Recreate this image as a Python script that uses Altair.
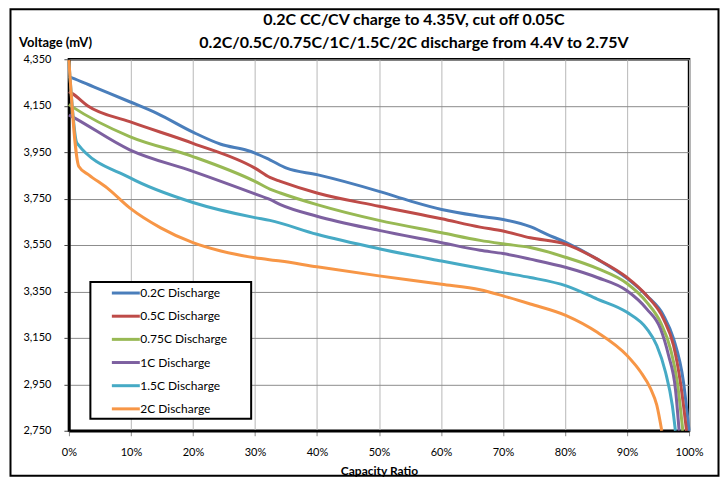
import altair as alt
import pandas as pd

series = ["0.2C Discharge", "0.5C Discharge", "0.75C Discharge",
          "1C Discharge", "1.5C Discharge", "2C Discharge"]
colors = ["#4A7EBB", "#BE4B48", "#98B954", "#7D60A0", "#46AAC5", "#F79646"]

title_lines = ["0.2C CC/CV charge to 4.35V, cut off 0.05C",
               "0.2C/0.5C/0.75C/1C/1.5C/2C  discharge from 4.4V to 2.75V"]

cap_02 = [0, 0.5, 4, 9.8, 14.2, 20, 24.5, 28.8, 30, 32.4, 35.1, 40, 50, 55.1, 60.1,
          66.3, 70, 74.4, 77.1, 80.2, 85.2, 90, 93.2, 95.9, 97.5, 99.1, 100]
v_02 = [4275, 4270, 4231, 4167, 4117, 4036, 3984, 3957, 3946, 3917, 3881, 3853, 3781, 3739, 3703,
        3674, 3660, 3629, 3596, 3560, 3489, 3406, 3331, 3246, 3146, 2960, 2750]

cap_05 = [0, 0.5, 3, 9.8, 20, 30, 32.4, 34.1, 40, 50, 60.1, 66.3, 70, 74.4, 80.2,
          85.2, 90, 93.2, 95.9, 97.5, 98.6, 99.6]
v_05 = [4210, 4203, 4150, 4081, 3988, 3881, 3841, 3824, 3774, 3717, 3663, 3627, 3610, 3581, 3553,
        3489, 3410, 3331, 3231, 3117, 2960, 2750]

cap_075 = [0, 0.5, 9.8, 20, 30, 32.4, 34.1, 40, 50, 60.1, 66.3, 70, 74.4, 80.2,
           85.2, 90, 93.2, 95.4, 97.0, 98.1, 99.0]
v_075 = [4155, 4146, 4017, 3931, 3824, 3791, 3774, 3724, 3656, 3603, 3570, 3555, 3539, 3496,
         3449, 3384, 3303, 3217, 3103, 2960, 2750]

cap_1 = [0, 0.5, 9.8, 20, 30, 32.4, 34.1, 40, 50, 60.1, 66.3, 70, 74.4, 80.2,
         85.2, 90, 93.2, 95.4, 96.7, 97.8, 98.4]
v_1 = [4110, 4103, 3960, 3867, 3770, 3746, 3724, 3674, 3613, 3560, 3527, 3513, 3489, 3453,
       3410, 3353, 3274, 3189, 3074, 2931, 2750]

cap_15 = [0, 1.3, 9.8, 20, 30, 32.4, 40, 50, 60.1, 66.3, 70, 74.4, 80.2,
          85.2, 90, 93.2, 94.8, 96.2, 97.3, 97.8]
v_15 = [4340, 3989, 3840, 3733, 3668, 3656, 3596, 3534, 3481, 3450, 3431, 3410, 3374,
        3317, 3260, 3189, 3117, 3003, 2860, 2750]

cap_2 = [0, 1.6, 3.2, 6.2, 9.8, 14.8, 20, 24.5, 30, 34.1, 40, 50, 60.1, 66.3, 70, 74.4,
         80.2, 85.2, 90, 92.2, 93.8, 94.8, 95.6]
v_2 = [4346, 3888, 3852, 3795, 3710, 3624, 3560, 3524, 3495, 3481, 3456, 3417, 3381, 3357, 3331, 3296,
       3246, 3174, 3074, 3003, 2931, 2860, 2750]

caps = [cap_02, cap_05, cap_075, cap_1, cap_15, cap_2]
volts = [v_02, v_05, v_075, v_1, v_15, v_2]

rows = []
for i, (name, cs, vs) in enumerate(zip(series, caps, volts)):
    for j, (c, v) in enumerate(zip(cs, vs)):
        rows.append({"series": name, "order": i, "idx": j, "cap": c, "volt": v})
df = pd.DataFrame(rows)

y_ticks = list(range(2750, 4351, 200))
x_ticks = list(range(0, 101, 10))

FONT = "Lato"

lines = alt.Chart(df).mark_line(strokeWidth=3, interpolate="monotone").encode(
    x=alt.X("cap:Q", scale=alt.Scale(domain=[0, 100], nice=False, zero=False),
            axis=alt.Axis(values=x_ticks, labelExpr="datum.value + '%'", labelFlush=False,
                          title="Capacity Ratio", titleFont=FONT, titleFontWeight="bold",
                          titleFontSize=12, titleColor="black", titlePadding=8,
                          labelFont=FONT, labelFontSize=11, labelColor="black", labelPadding=11,
                          tickSize=5, tickColor="#888888", domainColor="black", domainWidth=2.5,
                          gridColor="#b8b8b8", gridWidth=1)),
    y=alt.Y("volt:Q", scale=alt.Scale(domain=[2750, 4350], nice=False, zero=False),
            axis=alt.Axis(values=y_ticks, format=",d",
                          title="Voltage (mV)", titleAngle=0, titleAlign="left",
                          titleBaseline="middle", titleX=-50.5, titleY=-17,
                          titleFont=FONT, titleFontWeight="bold", titleFontSize=13,
                          titleColor="black",
                          labelFont=FONT, labelFontSize=11, labelColor="black", labelPadding=13,
                          tickSize=5, tickColor="#444444", domainColor="black", domainWidth=2.5,
                          gridColor="#8c8c8c", gridWidth=1)),
    color=alt.Color("series:N", scale=alt.Scale(domain=series, range=colors),
                    sort=series,
                    legend=alt.Legend(orient="none", legendX=45.5, legendY=222.6, title=None,
                                      symbolType="M-1.4,0H1.4", symbolSize=400,
                                      symbolStrokeWidth=3, labelFont=FONT, labelFontSize=12,
                                      labelColor="black", labelOffset=3, rowPadding=5.2,
                                      padding=0)),
    order=alt.Order("idx:Q"),
    detail="series:N",
)

dummy = pd.DataFrame({"a": [0]})
legend_box = alt.Chart(dummy).mark_rect(fill="white", stroke="black", strokeWidth=2).encode(
    x=alt.value(21.5), x2=alt.value(182.5), y=alt.value(223), y2=alt.value(360))

frame = alt.Chart(dummy).mark_rect(fill=None, stroke="black", strokeWidth=2).encode(
    x=alt.value(-58.5), x2=alt.value(650.5), y=alt.value(-50), y2=alt.value(417))

title1 = alt.Chart(dummy).mark_text(
    text=title_lines[0], font=FONT, fontSize=16, fontWeight="bold", color="black",
    align="center", baseline="middle").encode(x=alt.value(345.5), y=alt.value(-39))
title2 = alt.Chart(dummy).mark_text(
    text=title_lines[1], font=FONT, fontSize=16, fontWeight="bold", color="black",
    align="center", baseline="middle").encode(x=alt.value(345.5), y=alt.value(-16))

chart = alt.layer(lines, legend_box, frame, title1, title2).properties(
    width=621, height=372,
    padding={"left": 1, "top": 0, "right": 0, "bottom": 0},
).configure_view(stroke="black", strokeWidth=2.5)

chart.save("out.html", embed_options={"renderer": "svg", "actions": False})
